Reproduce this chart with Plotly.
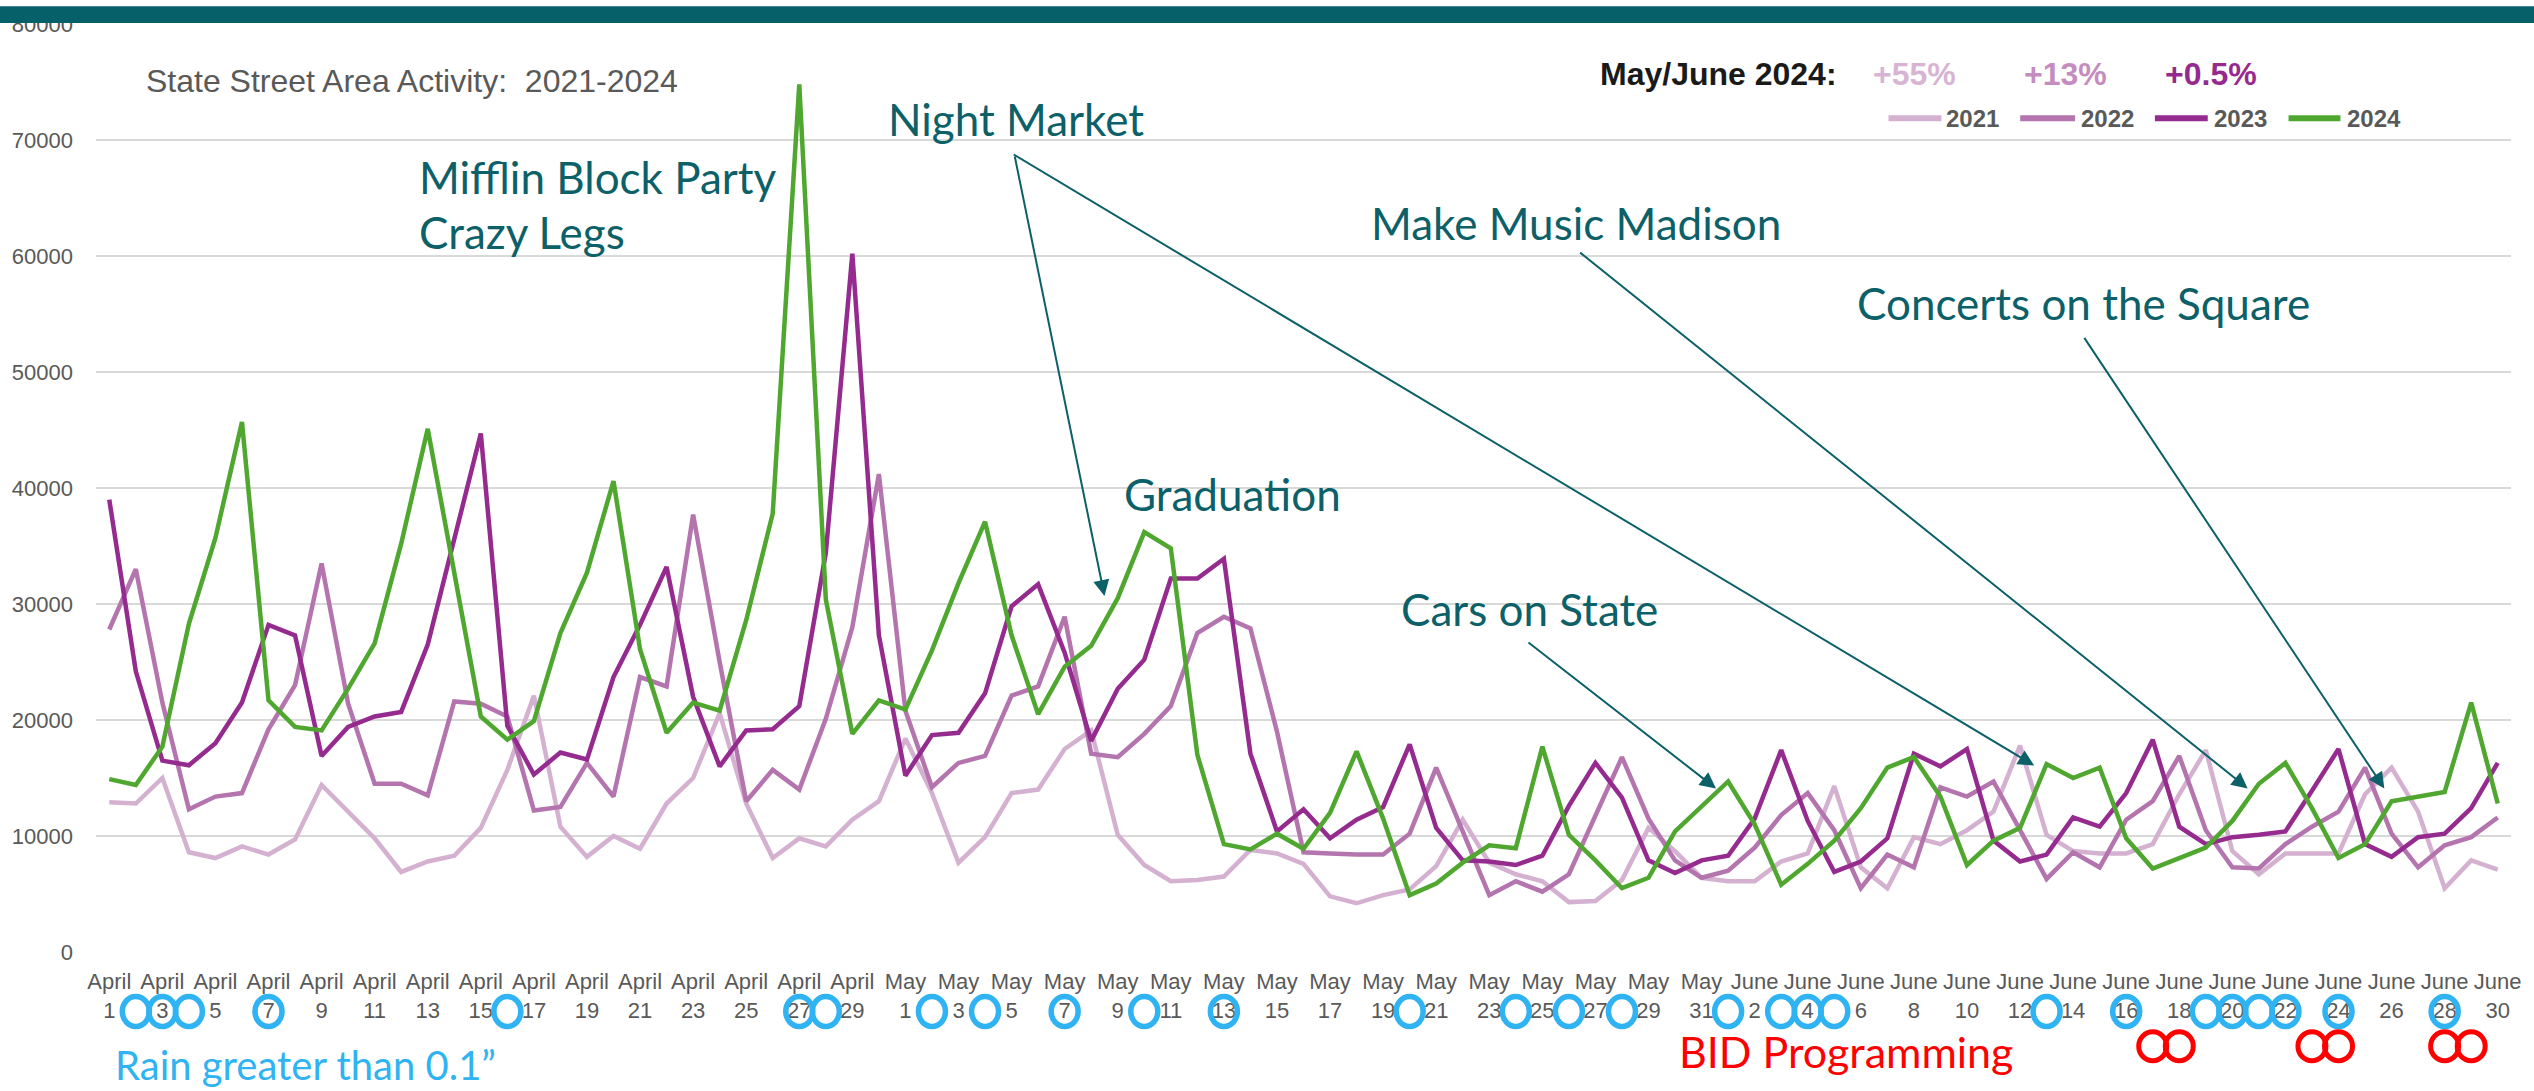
import plotly.graph_objects as go

# ---------------- data ----------------
months = [("April", 30), ("May", 31), ("June", 30)]
dates = [f"{m} {d}" for m, n in months for d in range(1, n + 1)]

y2021 = [12900, 12800, 15000, 8600, 8100, 9100, 8400, 9700, 14400, 12100,
         9800, 6900, 7800, 8300, 10700, 15700, 22100, 10800, 8200, 10000,
         8900, 12800, 15000, 20600, 12800, 8100, 9800, 9100, 11400, 13000,
         18400, 13700, 7700, 9900, 13700, 14000, 17500, 19100, 10100, 7500,
         6100, 6200, 6500, 8800, 8500, 7600, 4800, 4200, 4900, 5400,
         7400, 11400, 7700, 6700, 6100, 4300, 4400, 6200, 10700, 8700,
         6400, 6100, 6100, 7800, 8500, 14300, 7300, 5500, 9900, 9300,
         10500, 12100, 17800, 10100, 8700, 8500, 8500, 9300, 13600, 17400,
         8700, 6700, 8500, 8500, 8500, 13600, 15900, 12100, 5500, 7900,
         7100]

y2022 = [27800, 33000, 21500, 12300, 13400, 13700, 19200, 23000, 33500, 21400,
         14500, 14500, 13500, 21600, 21400, 20300, 12200, 12500, 16300, 13400,
         23700, 22900, 37700, 25000, 13000, 15700, 14000, 20100, 28000, 41200,
         20800, 14200, 16300, 16900, 22100, 22900, 28900, 17100, 16800, 18800,
         21200, 27500, 28900, 27900, 19000, 8600, 8500, 8400, 8400, 10200,
         15900, 10400, 4900, 6100, 5200, 6700, 11800, 16800, 11500, 7900,
         6400, 7000, 9000, 11800, 13700, 10500, 5500, 8400, 7300, 14200,
         13400, 14700, 10500, 6300, 8600, 7300, 11400, 13000, 16900, 10500,
         7300, 7200, 9300, 10800, 12100, 15900, 10200, 7300, 9200, 9900,
         11600]

y2023 = [39000, 24200, 16500, 16100, 18000, 21500, 28200, 27300, 16900, 19400,
         20300, 20700, 26500, 35500, 44700, 19500, 15300, 17200, 16600, 23700,
         28200, 33200, 22000, 16000, 19100, 19200, 21200, 34400, 60200, 27300,
         15200, 18700, 18900, 22300, 29800, 31700, 25800, 18200, 22700, 25200,
         32200, 32200, 33900, 17100, 10400, 12300, 9800, 11400, 12500, 17900,
         10700, 7900, 7800, 7500, 8300, 12600, 16300, 13300, 7900, 6800,
         7900, 8300, 11500, 17400, 11300, 6900, 7800, 9800, 17100, 16000,
         17500, 9600, 7800, 8400, 11600, 10800, 13700, 18300, 10800, 9300,
         9900, 10100, 10400, 13900, 17500, 9300, 8200, 9900, 10200, 12400,
         16300]

y2024 = [14900, 14400, 17700, 28300, 35700, 45700, 21700, 19400, 19100, 22700,
         26600, 35200, 45100, 32700, 20300, 18300, 19900, 27500, 32700, 40600,
         26100, 18900, 21500, 20800, 28600, 37800, 74800, 30400, 18800, 21700,
         20900, 26000, 31800, 37100, 27300, 20500, 24600, 26400, 30500, 36200,
         34800, 17000, 9300, 8850, 10200, 8900, 12000, 17300, 11500, 4900,
         5900, 7700, 9200, 8950, 17700, 10100, 7900, 5500, 6400, 10400,
         12600, 14700, 11000, 5800, 7600, 9600, 12400, 15900, 16800, 13400,
         7500, 9600, 10700, 16200, 15000, 15900, 9800, 7200, 8100, 9000,
         11300, 14500, 16300, 12400, 8100, 9300, 13000, 13400, 13800, 21500,
         12800]

years = ["2021", "2022", "2023", "2024"]
series = [y2021, y2022, y2023, y2024]
colors = ["#D4B1D0", "#B474AE", "#952A8F", "#4FA72F"]

pct_labels = ["+55%", "+13%", "+0.5%"]
pct_colors = ["#D8B4D4", "#C48CBF", "#952A8F"]

rain_days = ["April 2", "April 3", "April 4", "April 7", "April 16", "April 27", "April 28",
             "May 2", "May 4", "May 7", "May 10", "May 13", "May 20", "May 24", "May 26", "May 28",
             "June 1", "June 3", "June 4", "June 5", "June 13", "June 16", "June 19", "June 20",
             "June 21", "June 22", "June 24", "June 28"]
bid_days = ["June 17", "June 18", "June 23", "June 24", "June 28", "June 29"]

tick_vals = dates[::2]
tick_text = [d.replace(" ", "<br>") for d in tick_vals]

# ---------------- geometry helpers (pixel -> paper) ----------------
W, H = 2534, 1091
PL, PR, PT, PB = 92, 2513, 16, 952


def px(x):
    return (x - PL) / (PR - PL)


def py(y):
    return (PB - y) / (PB - PT)


GRAY = "#595959"
TEAL = "#0C6068"
RAIN = "#2FB3F2"
RED = "#FF0000"
SANS = "Liberation Sans, Arial, sans-serif"
HUM = "Lato, Carlito, Calibri, sans-serif"

fig = go.Figure()
for name, ys, c in zip(years, series, colors):
    fig.add_trace(go.Scatter(x=dates, y=ys, mode="lines", name=name,
                             line=dict(color=c, width=4.5), showlegend=False))

shapes = []
annotations = []

# top banner
shapes.append(dict(type="rect", xref="paper", yref="paper", x0=-0.05, x1=1.05,
                   y0=py(15), y1=py(-2), fillcolor="#06606A", line=dict(width=0),
                   layer="above"))

# rain circles
for d in rain_days:
    shapes.append(dict(type="circle", xref="x", yref="paper",
                       xsizemode="pixel", ysizemode="pixel",
                       xanchor=d, yanchor=py(1012),
                       x0=-13.5, x1=13.5, y0=-15, y1=15,
                       line=dict(color=RAIN, width=5.5)))
# BID circles
for d in bid_days:
    shapes.append(dict(type="circle", xref="x", yref="paper",
                       xsizemode="pixel", ysizemode="pixel",
                       xanchor=d, yanchor=py(1047),
                       x0=-14, x1=14, y0=-14.5, y1=14.5,
                       line=dict(color=RED, width=5)))


def text(t, x, y, color, size, family, bold=False, anchor="left"):
    annotations.append(dict(text=f"<b>{t}</b>" if bold else t, xref="paper", yref="paper",
                            x=px(x), y=py(y), xanchor=anchor, yanchor="middle",
                            showarrow=False,
                            font=dict(color=color, size=size, family=family)))


text("State Street Area Activity:  2021-2024", 140, 73, GRAY, 32, SANS)
text("Mifflin Block Party", 414, 170, TEAL, 44, HUM)
text("Crazy Legs", 414, 226, TEAL, 44, HUM)
text("Night Market", 884, 112, TEAL, 44, HUM)
text("Graduation", 1121, 490, TEAL, 44, HUM)
text("Cars on State", 1398, 606, TEAL, 44, HUM)
text("Make Music Madison", 1368, 217, TEAL, 44, HUM)
text("Concerts on the Square", 1855, 297, TEAL, 44, HUM)
text("Rain greater than 0.1\u201d", 109, 1066, RAIN, 40, HUM)
text("BID Programming", 1677, 1052, RED, 43, HUM)
text("May/June 2024:", 1598, 66, "#1A1A1A", 32, SANS, bold=True)
for lab, col, x in zip(pct_labels, pct_colors, [1871, 2023, 2164]):
    text(lab, x, 66, col, 32, SANS, bold=True)

# legend (line samples + labels)
for yr, c, (x0, x1, xt) in zip(years, colors,
                               [(1889, 1942, 1945), (2021, 2076, 2080),
                                (2156, 2209, 2213), (2290, 2342, 2347)]):
    shapes.append(dict(type="line", xref="paper", yref="paper",
                       x0=px(x0), x1=px(x1), y0=py(111), y1=py(111),
                       line=dict(color=c, width=6)))
    text(yr, xt, 111, GRAY, 24, SANS, bold=True)

# arrows (tail -> tip)
for (tx, ty), (hx, hy) in [((1013, 152), (1103, 593)),
                           ((1013, 152), (2035, 764)),
                           ((1580, 250), (2249, 787)),
                           ((2085, 335), (2386, 787)),
                           ((1527, 640), (1716, 787))]:
    annotations.append(dict(text="", xref="paper", yref="paper", x=px(hx), y=py(hy),
                            axref="pixel", ayref="pixel", ax=tx - hx, ay=ty - hy,
                            showarrow=True, arrowhead=2, arrowsize=1.6, arrowwidth=2,
                            arrowcolor=TEAL, standoff=0))

fig.update_layout(
    width=W, height=H, autosize=False,
    margin=dict(l=PL, r=W - PR, t=PT, b=H - PB, pad=0),
    paper_bgcolor="white", plot_bgcolor="white",
    shapes=shapes, annotations=annotations, showlegend=False,
    font=dict(family=SANS, color=GRAY),
)
fig.update_xaxes(type="category", range=[-0.5, 90.5], tickmode="array",
                 tickvals=tick_vals, ticktext=tick_text, tickangle=0,
                 showgrid=False, zeroline=False, showline=False, ticks="",
                 ticklabelstandoff=14,
                 tickfont=dict(size=22, color=GRAY, family=SANS))
fig.update_yaxes(range=[0, 80000], dtick=10000, tickformat="d",
                 showgrid=True, gridcolor="#D9D9D9", gridwidth=2,
                 zeroline=False, showline=False, ticks="",
                 ticklabelstandoff=22,
                 tickfont=dict(size=22, color=GRAY, family=SANS))

fig.write_html("out.html",
               config={"displayModeBar": False},
               post_script="document.body.style.margin='0';document.body.style.overflow='hidden';")
